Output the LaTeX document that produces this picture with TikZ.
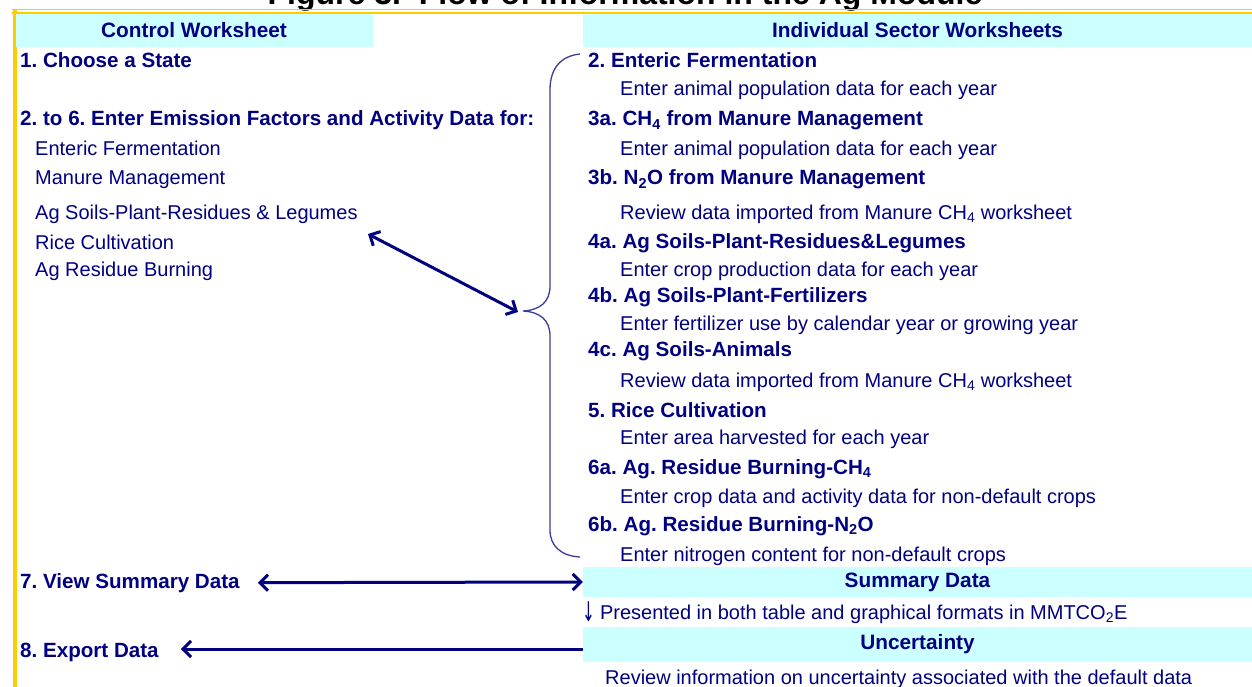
\documentclass[tikz,border=0pt]{standalone}
\usepackage{fontspec}
\usepackage{graphicx}
\setmainfont{Liberation Sans}
\newfontfamily\arrowfont{DejaVu Sans}
\usetikzlibrary{arrows.meta}
\definecolor{navy}{RGB}{0,0,128}
\definecolor{bracecol}{RGB}{60,60,150}
\definecolor{hdrcyan}{RGB}{204,255,255}
\definecolor{gold}{RGB}{255,204,0}
\frenchspacing
\begin{document}
\begin{tikzpicture}[x=1pt,y=-1pt,
  txt/.style={anchor=base west,inner sep=0pt,text=navy,font=\fontsize{20}{24}\selectfont},
  btxt/.style={anchor=base west,inner sep=0pt,text=navy,font=\fontsize{20.6}{24}\selectfont\bfseries},
  hdr/.style={fill=hdrcyan,inner sep=0pt,text=navy,font=\fontsize{20.8}{24}\selectfont\bfseries,minimum height=33pt},
  barbtip/.tip={Straight Barb[length=8pt,width=16pt,line width=3pt]},
  arr/.style={draw=navy,line width=3pt,-{barbtip}},
  darr/.style={draw=navy,line width=3pt,{barbtip}-{barbtip}},
  brace/.style={draw=bracecol,line width=1.3pt}
]
\useasboundingbox (0,0) rectangle (1252,687);
% title (cut off at top, as in the reference)
\node[anchor=base,inner sep=0pt,font=\fontsize{32}{36}\selectfont\bfseries] (title) at (625,5) {Figure 3.\ \ Flow of Information in the Ag Module};
% yellow frame
\draw[gold,line width=1.6pt] (12,9.5) -- (1252,9.5);
\draw[gold,line width=1.6pt] (12,12.8) -- (1252,12.8);
\draw[gold,line width=4pt] (14.5,9) -- (14.5,687);
% headers
\node[hdr,minimum width=357pt] (cw) at (194,30.5) {Control Worksheet};
\node[hdr,minimum width=669pt] (isw) at (917.5,30.5) {Individual Sector Worksheets};
\node[hdr,minimum width=669pt,minimum height=30pt] (summary) at (917.5,582) {Summary Data};
\node[hdr,minimum width=669pt,minimum height=35pt] (uncert) at (917.5,644.5) {Uncertainty};
% left column
\node[btxt] (l1) at (20,68) {1. Choose a State};
\node[btxt] (l2) at (20,126) {2. to 6. Enter Emission Factors and Activity Data for:};
\node[txt] (la) at (35,156) {Enteric Fermentation};
\node[txt] (lb) at (35,185) {Manure Management};
\node[txt] (lc) at (35,219) {Ag Soils-Plant-Residues \& Legumes};
\node[txt] (ld) at (35,249) {Rice Cultivation};
\node[txt] (le) at (35,276) {Ag Residue Burning};
\node[btxt] (l7) at (20,588) {7. View Summary Data};
\node[btxt] (l8) at (20,657) {8. Export Data};
% right column
\node[btxt] (r2) at (588,68) {2. Enteric Fermentation};
\node[txt] (r2s) at (620,96) {Enter animal population data for each year};
\node[btxt] (r3a) at (588,126) {3a. CH\textsubscript{4} from Manure Management};
\node[txt] (r3as) at (620,156) {Enter animal population data for each year};
\node[btxt] (r3b) at (588,185) {3b. N\textsubscript{2}O from Manure Management};
\node[txt] (r3bs) at (620,219) {Review data imported from Manure CH\textsubscript{4} worksheet};
\node[btxt] (r4a) at (588,248) {4a. Ag Soils-Plant-Residues\&Legumes};
\node[txt] (r4as) at (620,276) {Enter crop production data for each year};
\node[btxt] (r4b) at (588,302) {4b. Ag Soils-Plant-Fertilizers};
\node[txt] (r4bs) at (620,330) {Enter fertilizer use by calendar year or growing year};
\node[btxt] (r4c) at (588,356) {4c. Ag Soils-Animals};
\node[txt] (r4cs) at (620,387) {Review data imported from Manure CH\textsubscript{4} worksheet};
\node[btxt] (r5) at (588,417) {5. Rice Cultivation};
\node[txt] (r5s) at (620,444) {Enter area harvested for each year};
\node[btxt] (r6a) at (588,474) {6a. Ag. Residue Burning-CH\textsubscript{4}};
\node[txt] (r6as) at (620,503) {Enter crop data and activity data for non-default crops};
\node[btxt] (r6b) at (588,531) {6b. Ag. Residue Burning-N\textsubscript{2}O};
\node[txt] (r6bs) at (620,561) {Enter nitrogen content for non-default crops};
\node[txt] (pres) at (582,619) {\raisebox{-2pt}{\scalebox{0.9}[1.6]{\arrowfont\fontsize{17}{20}\selectfont ↓}}\hspace{5pt}Presented in both table and graphical formats in MMTCO\textsubscript{2}E};
\node[txt] (rev) at (605,684) {Review information on uncertainty associated with the default data};
% brace
\draw[brace] (580,54) .. controls (561,56) and (550,68) .. (550,90) -- (550,286)
  .. controls (550,302) and (540,310) .. (523,311)
  .. controls (540,312) and (550,320) .. (550,336) -- (550,530)
  .. controls (550,546) and (561,556) .. (580,557) coordinate (bracebot);
\coordinate (bracetip) at (518,312);
\coordinate (agend) at (368,234);
% connectors
\draw[darr] (agend) -- (bracetip);
\draw[darr] ([xshift=18pt]l7.east) -- (summary.west);
\draw[arr] (uncert.west |- 0,649) -- ([xshift=22pt]l8.east |- 0,649);
\end{tikzpicture}
\end{document}
